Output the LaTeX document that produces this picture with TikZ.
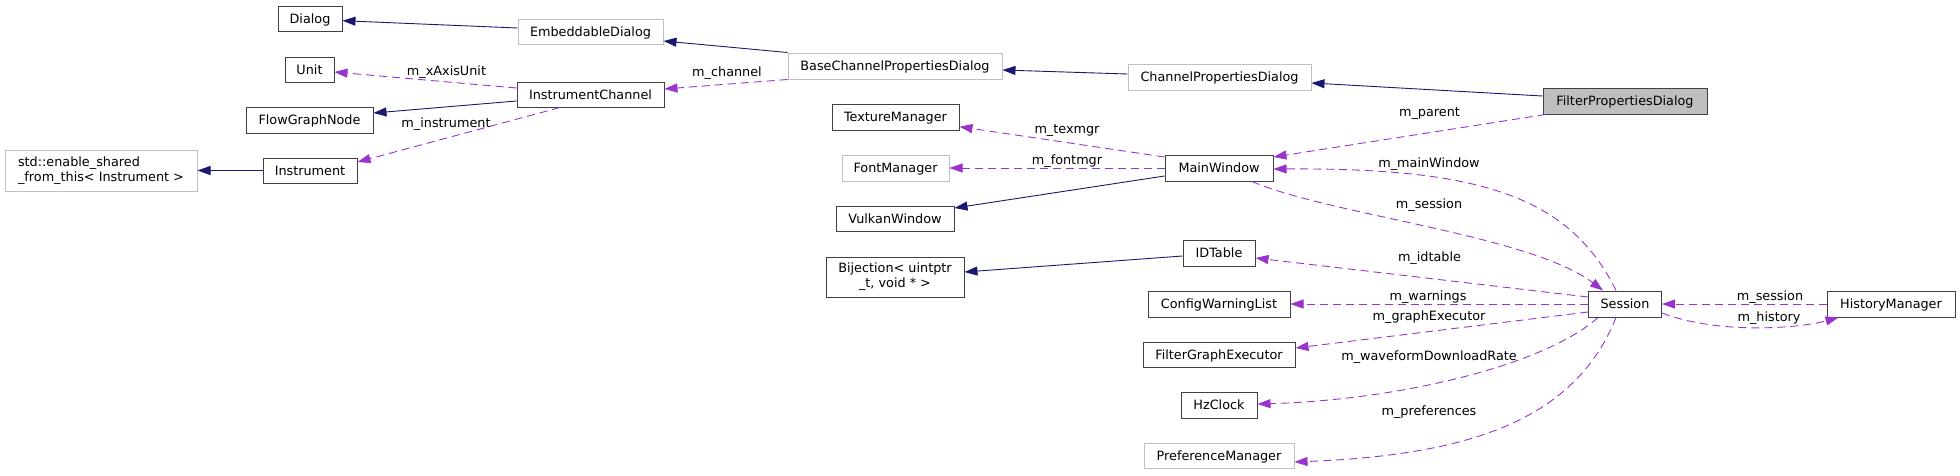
\documentclass[tikz,border=0pt]{standalone}
\usepackage{fontspec}
\setmainfont{DejaVu Sans}
\usetikzlibrary{arrows.meta}
\definecolor{inh}{HTML}{191970}
\definecolor{usec}{HTML}{9A32CD}
\definecolor{bdr}{HTML}{404040}
\definecolor{ubdr}{HTML}{BFBFBF}
\newcommand\fsz{\fontsize{12.8pt}{15pt}\selectfont}
\begin{document}
\begin{tikzpicture}[x=1pt,y=-1pt,
  box/.style={draw=bdr, line width=1pt, fill=white, inner sep=0pt, font=\fsz},
  one/.style={box, text height=9.3pt, text depth=0pt},
  ubox/.style={one, draw=ubdr},
  rootbox/.style={one, fill=ubdr},
  lbl/.style={inner sep=0pt, font=\fsz, text height=9.3pt, text depth=0pt},
  inhedge/.style={draw=inh, line width=0.9pt, -{Triangle[length=13pt,width=9pt]}},
  useedge/.style={draw=usec, line width=0.9pt, dash pattern=on 8pt off 5pt, -{Triangle[length=13pt,width=9pt]}}
]
\useasboundingbox (0,0) rectangle (1960,475);
% nodes
\node[one, minimum width=64pt, minimum height=25pt] (dialog) at (310,18.5) {Dialog};
\node[ubox, minimum width=145pt, minimum height=25pt] (embdlg) at (590.5,31.5) {EmbeddableDialog};
\node[one, minimum width=49pt, minimum height=25pt] (unit) at (309.5,69.5) {Unit};
\node[one, minimum width=147pt, minimum height=25pt] (ichan) at (590.5,94.5) {InstrumentChannel};
\node[one, minimum width=127pt, minimum height=26pt] (fgnode) at (309.5,120) {FlowGraphNode};
\node[one, minimum width=94pt, minimum height=25pt] (instr) at (310,170.5) {Instrument};
\node[box, draw=ubdr, align=left, minimum width=192pt, minimum height=41pt] (stdesft) at (101,170.5) {std::enable\_shared\\\_from\_this< Instrument >};
\node[ubox, minimum width=214pt, minimum height=26pt] (bcpd) at (895,66) {BaseChannelPropertiesDialog};
\node[ubox, minimum width=183pt, minimum height=26pt] (cpd) at (1219.5,77) {ChannelPropertiesDialog};
\node[one, minimum width=127pt, minimum height=26pt] (texmgr) at (895.5,117) {TextureManager};
\node[ubox, minimum width=107pt, minimum height=26pt] (fontmgr) at (895.5,168) {FontManager};
\node[one, minimum width=118pt, minimum height=25pt] (vulkan) at (895,218.5) {VulkanWindow};
\node[one, minimum width=108pt, minimum height=26pt] (mainwin) at (1219,168) {MainWindow};
\node[rootbox, minimum width=164pt, minimum height=26pt] (fpd) at (1625,101) {FilterPropertiesDialog};
\node[box, align=center, minimum width=138pt, minimum height=40pt] (bijection) at (895,277) {Bijection< uintptr\\\_t, void * >};
\node[one, minimum width=72pt, minimum height=26pt] (idtable) at (1219,253) {IDTable};
\node[one, minimum width=142pt, minimum height=26pt] (cwl) at (1219,304) {ConfigWarningList};
\node[one, minimum width=152pt, minimum height=25pt] (fge) at (1219,354.5) {FilterGraphExecutor};
\node[one, minimum width=76pt, minimum height=26pt] (hzclock) at (1219,405) {HzClock};
\node[ubox, minimum width=150pt, minimum height=25pt] (prefmgr) at (1219,455.5) {PreferenceManager};
\node[one, minimum width=73pt, minimum height=26pt] (session) at (1625,304) {Session};
\node[one, minimum width=128pt, minimum height=26pt] (histmgr) at (1891,304) {HistoryManager};
% inheritance edges
\draw[inhedge] ([yshift=3.5pt]embdlg.west) -- ([yshift=-2.2pt]dialog.east);
\draw[inhedge] (bcpd.north west) -- ([yshift=-9.5pt]embdlg.east);
\draw[inhedge] ([yshift=3pt]cpd.west) -- ([yshift=-4pt]bcpd.east);
\draw[inhedge] ([yshift=5pt]fpd.west) -- ([yshift=-6pt]cpd.east);
\draw[inhedge] ([yshift=-6.5pt]ichan.west) -- ([yshift=7pt]fgnode.east);
\draw[inhedge] (instr.west) -- (stdesft.east);
\draw[inhedge] ([yshift=-8pt]mainwin.west) -- ([yshift=10.5pt]vulkan.east);
\draw[inhedge] ([yshift=-3pt]idtable.west) -- ([yshift=5pt]bijection.east);
% usage edges
\draw[useedge] ([yshift=6.5pt]ichan.west) -- ([yshift=-2.5pt]unit.east);
\draw[useedge] ([xshift=-30.5pt]ichan.south) -- ([yshift=8.5pt]instr.east);
\draw[useedge] (bcpd.south west) -- ([yshift=5.5pt]ichan.east);
\draw[useedge] ([yshift=11pt]mainwin.west) -- ([yshift=-9.7pt]texmgr.east);
\draw[useedge] (mainwin.west) -- (fontmgr.east);
\draw[useedge] ([xshift=3pt]fpd.south west) -- ([yshift=11pt]mainwin.east);
\draw[useedge] ([xshift=-9pt]session.north) .. controls (1568,192) and (1470,168) .. ([yshift=-1pt]mainwin.east);
\draw[useedge] ([xshift=33pt]mainwin.south) .. controls (1330,215) and (1530,235) .. ([xshift=-22pt]session.north);
\draw[useedge] ([yshift=7pt]session.west) -- ([yshift=-5pt]idtable.east);
\draw[useedge] (session.west) -- (cwl.east);
\draw[useedge] ([yshift=-8pt]session.west) -- ([yshift=6.5pt]fge.east);
\draw[useedge] ([xshift=-27pt]session.south) .. controls (1545,365) and (1400,400) .. ([yshift=1pt]hzclock.east);
\draw[useedge] ([xshift=-9pt]session.south) .. controls (1575,420) and (1470,455) .. ([yshift=-6.5pt]prefmgr.east);
\draw[useedge] (histmgr.west) -- (session.east);
\draw[useedge] ([yshift=-9pt]session.east) .. controls (1720,335) and (1800,328) .. ([xshift=12pt]histmgr.south west);
% labels
\node[lbl] (lxaxis) at (446.5,70.7) {m\_xAxisUnit};
\node[lbl] (linstr) at (446,123) {m\_instrument};
\node[lbl] (lchan) at (727,72) {m\_channel};
\node[lbl] (ltex) at (1067,129) {m\_texmgr};
\node[lbl] (lfont) at (1067,160) {m\_fontmgr};
\node[lbl] (lparent) at (1429.5,112) {m\_parent};
\node[lbl] (lmainw) at (1429,162.7) {m\_mainWindow};
\node[lbl] (lsess) at (1429,203.7) {m\_session};
\node[lbl] (lidt) at (1429.5,256.7) {m\_idtable};
\node[lbl] (lwarn) at (1428,296) {m\_warnings};
\node[lbl] (lgexec) at (1429,316) {m\_graphExecutor};
\node[lbl] (lwave) at (1429,356) {m\_waveformDownloadRate};
\node[lbl] (lpref) at (1429,410.7) {m\_preferences};
\node[lbl] (lsess2) at (1770,295.7) {m\_session};
\node[lbl] (lhist) at (1769,316.7) {m\_history};
\end{tikzpicture}
\end{document}
